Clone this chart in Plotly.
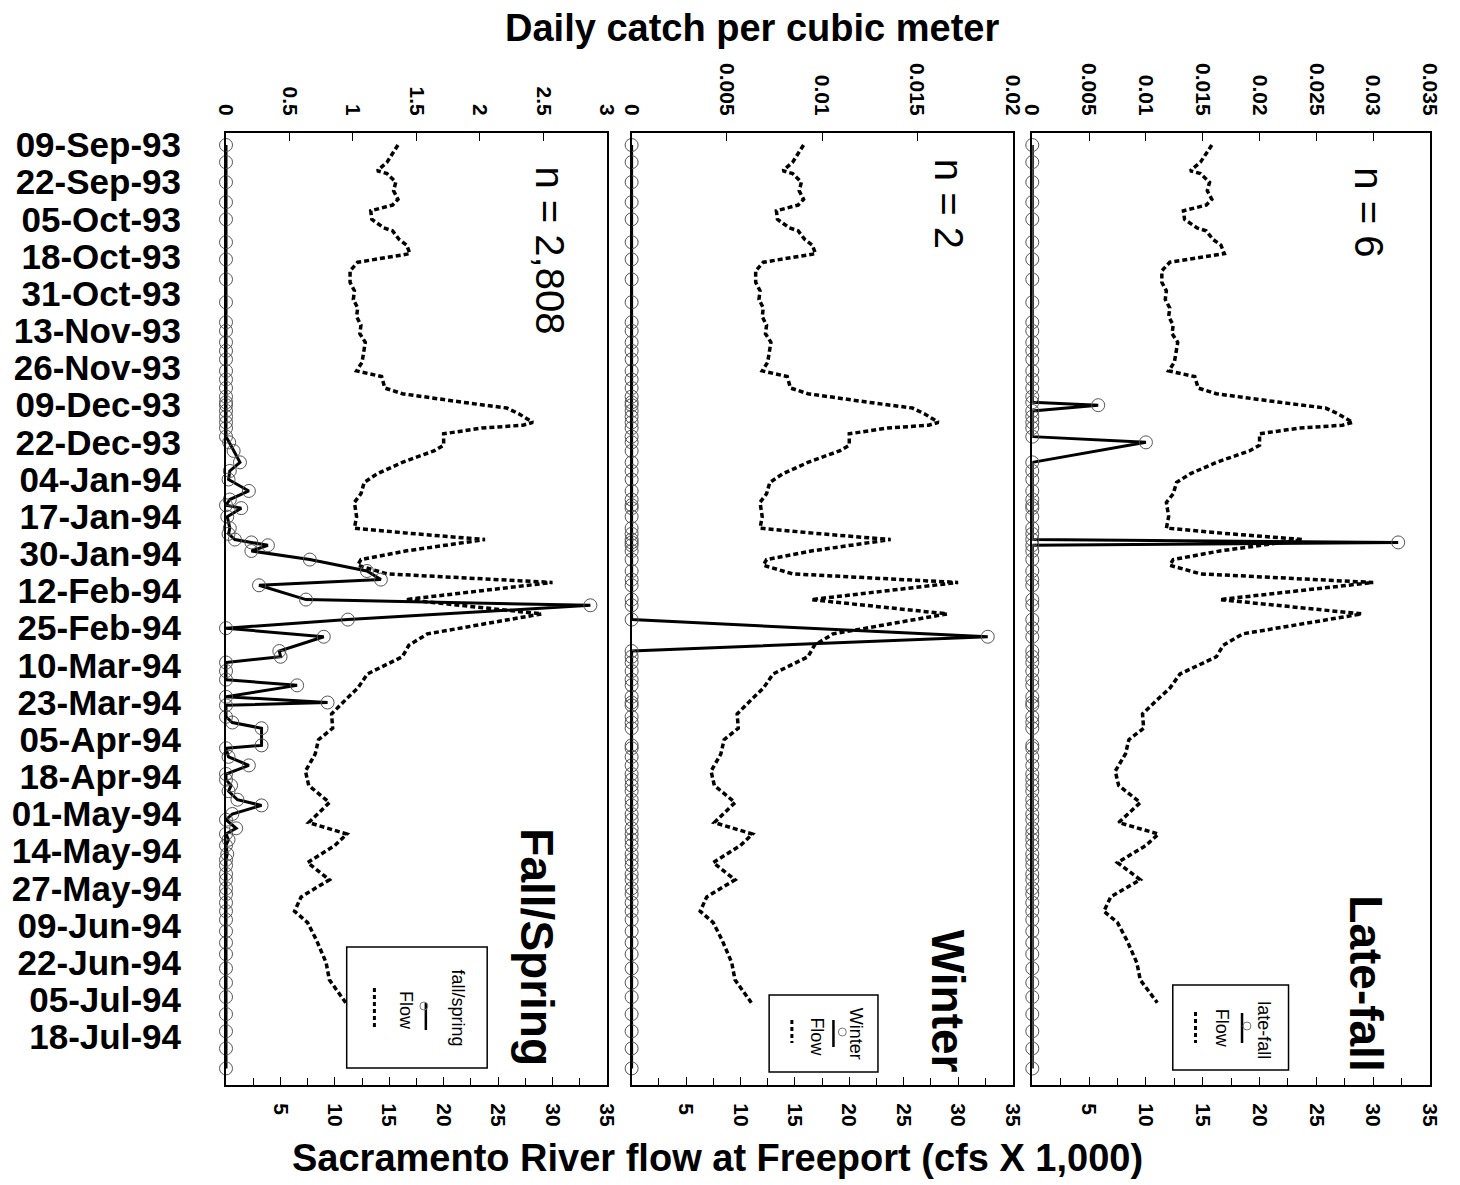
import plotly.graph_objects as go

FONT = "Liberation Sans"

# ---------------- data ----------------
date_tick_values = [
    "1993-09-09", "1993-09-22", "1993-10-05", "1993-10-18", "1993-10-31",
    "1993-11-13", "1993-11-26", "1993-12-09", "1993-12-22", "1994-01-04",
    "1994-01-17", "1994-01-30", "1994-02-12", "1994-02-25", "1994-03-10",
    "1994-03-23", "1994-04-05", "1994-04-18", "1994-05-01", "1994-05-14",
    "1994-05-27", "1994-06-09", "1994-06-22", "1994-07-05", "1994-07-18"]
date_tick_labels = [
    "09-Sep-93", "22-Sep-93", "05-Oct-93", "18-Oct-93", "31-Oct-93",
    "13-Nov-93", "26-Nov-93", "09-Dec-93", "22-Dec-93", "04-Jan-94",
    "17-Jan-94", "30-Jan-94", "12-Feb-94", "25-Feb-94", "10-Mar-94",
    "23-Mar-94", "05-Apr-94", "18-Apr-94", "01-May-94", "14-May-94",
    "27-May-94", "09-Jun-94", "22-Jun-94", "05-Jul-94", "18-Jul-94"]

# Sacramento River flow at Freeport (cfs x 1,000)
flow_dates = [
    "1993-09-09", "1993-09-15", "1993-09-18", "1993-09-19", "1993-09-22", "1993-09-25",
    "1993-09-28", "1993-09-30", "1993-10-02", "1993-10-05", "1993-10-08", "1993-10-09",
    "1993-10-12", "1993-10-14", "1993-10-17", "1993-10-19", "1993-10-20", "1993-10-23",
    "1993-10-27", "1993-10-30", "1993-11-02", "1993-11-05", "1993-11-08", "1993-11-11",
    "1993-11-14", "1993-11-17", "1993-11-20", "1993-11-24", "1993-11-27", "1993-11-29",
    "1993-12-03", "1993-12-05", "1993-12-08", "1993-12-10", "1993-12-12", "1993-12-15",
    "1993-12-16", "1993-12-17", "1993-12-19", "1993-12-23", "1993-12-25", "1993-12-29",
    "1994-01-02", "1994-01-05", "1994-01-09", "1994-01-12", "1994-01-17", "1994-01-21",
    "1994-01-23", "1994-01-25", "1994-01-29", "1994-02-01", "1994-02-03", "1994-02-06",
    "1994-02-09", "1994-02-15", "1994-02-20", "1994-02-27", "1994-03-03", "1994-03-07",
    "1994-03-13", "1994-03-18", "1994-03-22", "1994-03-27", "1994-04-01", "1994-04-05",
    "1994-04-10", "1994-04-16", "1994-04-21", "1994-04-27", "1994-05-04", "1994-05-08",
    "1994-05-12", "1994-05-18", "1994-05-24", "1994-05-30", "1994-06-04", "1994-06-08",
    "1994-06-14", "1994-06-22", "1994-06-28", "1994-07-06"]
flow_cfs_thousands = [
    15.8, 14.8, 13.9, 14.8, 15.6, 15.4,
    15.8, 15.3, 13.3, 13.4, 14.5, 15.3,
    15.9, 16.6, 16.9, 13.6, 12.1, 11.4,
    11.4, 11.8, 11.7, 12.1, 12.0, 12.4,
    12.3, 12.8, 12.7, 12.5, 12.0, 14.3,
    14.6, 16.2, 21.8, 25.8, 26.9, 28.2,
    27.3, 23.5, 20.0, 20.0, 19.1, 16.2,
    13.9, 12.7, 12.4, 11.8, 12.0, 11.8,
    17.4, 23.8, 16.5, 12.4, 12.1, 14.8,
    30.0, 16.5, 29.0, 18.5, 16.8, 16.2,
    13.0, 12.1, 11.0, 9.7, 9.8, 8.5,
    8.2, 7.3, 7.6, 9.5, 7.6, 11.1,
    10.0, 7.5, 9.5, 6.9, 6.3, 7.5,
    8.3, 9.2, 9.5, 11.0]

# trawl sample dates and daily catch per cubic meter
sample_dates = [
    "1993-09-09", "1993-09-15", "1993-09-22", "1993-09-29", "1993-10-05", "1993-10-13", "1993-10-19", "1993-10-26", "1993-11-03", "1993-11-10",
    "1993-11-13", "1993-11-17", "1993-11-20", "1993-11-23", "1993-11-27", "1993-11-30", "1993-12-03", "1993-12-06", "1993-12-08", "1993-12-09",
    "1993-12-11", "1993-12-13", "1993-12-15", "1993-12-17", "1993-12-20", "1993-12-22", "1993-12-25", "1993-12-29", "1994-01-01", "1994-01-04",
    "1994-01-08", "1994-01-11", "1994-01-13", "1994-01-14", "1994-01-17", "1994-01-21", "1994-01-23", "1994-01-25", "1994-01-26", "1994-01-27",
    "1994-01-29", "1994-02-01", "1994-02-05", "1994-02-08", "1994-02-10", "1994-02-15", "1994-02-17", "1994-02-22", "1994-02-25", "1994-02-28",
    "1994-03-05", "1994-03-07", "1994-03-09", "1994-03-12", "1994-03-15", "1994-03-17", "1994-03-21", "1994-03-23", "1994-03-24", "1994-03-28",
    "1994-03-30", "1994-04-01", "1994-04-07", "1994-04-08", "1994-04-11", "1994-04-14", "1994-04-17", "1994-04-19", "1994-04-21", "1994-04-23",
    "1994-04-26", "1994-04-28", "1994-05-01", "1994-05-03", "1994-05-06", "1994-05-08", "1994-05-10", "1994-05-12", "1994-05-15", "1994-05-17",
    "1994-05-19", "1994-05-22", "1994-05-24", "1994-05-27", "1994-05-29", "1994-06-01", "1994-06-04", "1994-06-07", "1994-06-11", "1994-06-15",
    "1994-06-19", "1994-06-24", "1994-06-29", "1994-07-04", "1994-07-10", "1994-07-16", "1994-07-22", "1994-07-29"]
catch_fall_spring = [
    0, 0, 0, 0, 0, 0, 0, 0, 0, 0,
    0, 0, 0, 0, 0, 0, 0, 0, 0, 0,
    0, 0, 0, 0, 0, 0.025, 0.06, 0.11, 0.03, 0.02,
    0.18, 0.03, 0, 0.12, 0.01, 0.03, 0.02, 0.07, 0.2, 0.33,
    0.20, 0.66, 1.11, 1.22, 0.26, 0.63, 2.87, 0.96, 0, 0.77,
    0.42, 0.43, 0, 0, 0, 0.56, 0, 0.80, 0, 0,
    0.05, 0.28, 0.28, 0, 0.02, 0.18, 0, 0, 0.04, 0.02,
    0.09, 0.28, 0.05, 0, 0.08, 0, 0.02, 0, 0.01, 0,
    0, 0, 0, 0, 0, 0, 0, 0, 0, 0,
    0, 0, 0, 0, 0, 0, 0, 0]
catch_winter = [
    0, 0, 0, 0, 0, 0, 0, 0, 0, 0,
    0, 0, 0, 0, 0, 0, 0, 0, 0, 0,
    0, 0, 0, 0, 0, 0, 0, 0, 0, 0,
    0, 0, 0, 0, 0, 0, 0, 0, 0, 0,
    0, 0, 0, 0, 0, 0, 0, 0, None, 0.0187,
    0, 0, 0, 0, 0, 0, 0, 0, 0, 0,
    0, 0, 0, 0, 0, 0, 0, 0, 0, 0,
    0, 0, 0, 0, 0, 0, 0, 0, 0, 0,
    0, 0, 0, 0, 0, 0, 0, 0, 0, 0,
    0, 0, 0, 0, 0, 0, 0, 0]
catch_late_fall = [
    0, 0, 0, 0, 0, 0, 0, 0, 0, 0,
    0, 0, 0, 0, 0, 0, 0, 0, 0, 0.0058,
    0, 0, 0, 0, 0, 0.0100, None, 0, 0, 0,
    0, 0, 0, 0, 0, 0, 0, 0, 0.0322, 0,
    0, 0, 0, 0, 0, 0, 0, 0, 0, 0,
    0, 0, 0, 0, 0, 0, 0, 0, 0, 0,
    0, 0, 0, 0, 0, 0, 0, 0, 0, 0,
    0, 0, 0, 0, 0, 0, 0, 0, 0, 0,
    0, 0, 0, 0, 0, 0, 0, 0, 0, 0,
    0, 0, 0, 0, 0, 0, 0, 0]

fs_tick_values = [0, 0.5, 1, 1.5, 2, 2.5, 3]
fs_tick_labels = ["0", "0.5", "1", "1.5", "2", "2.5", "3"]
winter_tick_values = [0, 0.005, 0.01, 0.015, 0.02]
winter_tick_labels = ["0", "0.005", "0.01", "0.015", "0.02"]
late_tick_values = [0, 0.005, 0.01, 0.015, 0.02, 0.025, 0.03, 0.035]
late_tick_labels = ["0", "0.005", "0.01", "0.015", "0.02", "0.025", "0.03", "0.035"]
flow_tick_values = [5, 10, 15, 20, 25, 30, 35]
flow_tick_labels = ["5", "10", "15", "20", "25", "30", "35"]

panel_titles = ["Fall/Spring", "Winter", "Late-fall"]
sample_sizes = ["n = 2,808", "n = 2", "n = 6"]
series_names = ["fall/spring", "Winter", "late-fall"]

# ---------------- geometry (pixels) ----------------
W, H = 1460, 1185
ML, MR, MT, MB = 213, 30, 133, 100
PW, PH = W - ML - MR, H - MT - MB


def fx(px):
    return (px - ML) / PW


def fy(py):
    return (H - MB - py) / PH


panel_px = [(213, 598), (623, 1008), (1028, 1430)]
y_range = ["1994-08-03 19:00", "1993-09-04 19:00"]  # reversed: time runs downward

panels = [
    dict(catch=catch_fall_spring, cmax=3, tv=fs_tick_values, tl=fs_tick_labels),
    dict(catch=catch_winter, cmax=0.02, tv=winter_tick_values, tl=winter_tick_labels),
    dict(catch=catch_late_fall, cmax=0.035, tv=late_tick_values, tl=late_tick_labels),
]

tick_font = dict(family=FONT, size=21, color="black", weight="bold")

fig = go.Figure()
layout = {}
for i, p in enumerate(panels):
    fa, ca = 2 * i + 1, 2 * i + 2
    fxn = "x" if fa == 1 else f"x{fa}"
    cxn = f"x{ca}"
    yn = "y" if i == 0 else f"y{i + 1}"
    dom = [fx(panel_px[i][0]), fx(panel_px[i][1])]

    fig.add_trace(go.Scatter(
        x=flow_cfs_thousands, y=flow_dates, xaxis=fxn, yaxis=yn,
        mode="lines", line=dict(color="black", width=3.5, dash="5px,3px"),
        showlegend=False, hoverinfo="skip"))
    fig.add_trace(go.Scatter(
        x=p["catch"], y=sample_dates, xaxis=cxn, yaxis=yn,
        mode="lines+markers", connectgaps=True, cliponaxis=False,
        line=dict(color="black", width=3),
        marker=dict(symbol="circle-open", size=13, color="#555555",
                    line=dict(width=1)),
        showlegend=False))

    layout["xaxis" if fa == 1 else f"xaxis{fa}"] = dict(
        domain=dom, anchor=yn, side="bottom", range=[0, 35],
        tickmode="array", tickvals=flow_tick_values, ticktext=flow_tick_labels,
        tickangle=90, ticks="inside", ticklen=8, tickwidth=1, tickcolor="black",
        minor=dict(ticks="inside", ticklen=7, dtick=2.5, tick0=0,
                   tickcolor="black", showgrid=False),
        ticklabelstandoff=12, tickfont=tick_font,
        showline=True, linewidth=2, linecolor="black",
        showgrid=False, zeroline=False, fixedrange=True)
    layout[f"xaxis{ca}"] = dict(
        domain=dom, anchor=yn, overlaying=fxn, side="top",
        range=[0, p["cmax"]], tickmode="array", tickvals=p["tv"], ticktext=p["tl"],
        tickangle=90, ticks="inside", ticklen=8, tickwidth=1, tickcolor="black",
        ticklabelstandoff=8, tickfont=tick_font,
        showline=True, linewidth=2, linecolor="black",
        showgrid=False, zeroline=False, fixedrange=True)
    yax = dict(
        domain=[0, 1], anchor=fxn, type="date", range=y_range,
        tickmode="array", tickvals=date_tick_values, ticktext=date_tick_labels,
        ticks="", showticklabels=(i == 0), ticklabelstandoff=36,
        tickfont=dict(family=FONT, size=35, color="black", weight="bold"),
        showline=True, mirror=True, linewidth=2, linecolor="black",
        showgrid=False, zeroline=False, fixedrange=True)
    if i > 0:
        yax["matches"] = "y"
    layout["yaxis" if i == 0 else f"yaxis{i + 1}"] = yax

# ---------------- text and legends ----------------
annotations = [
    dict(text="Daily catch per cubic meter", x=fx(745), y=fy(28),
         font=dict(family=FONT, size=38, color="black", weight="bold")),
    dict(text="Sacramento River flow at Freeport (cfs X 1,000)", x=fx(710), y=fy(1158),
         font=dict(family=FONT, size=38, color="black", weight="bold")),
]
title_pos = [(527, 947), (943, 1001), (1365, 983)]
n_pos = [(540, 250), (944, 204), (1368, 212)]
for i in range(3):
    annotations.append(dict(text=panel_titles[i], x=fx(title_pos[i][0]), y=fy(title_pos[i][1]),
                            textangle=90, font=dict(family=FONT, size=46, color="black", weight="bold")))
    annotations.append(dict(text=sample_sizes[i], x=fx(n_pos[i][0]), y=fy(n_pos[i][1]),
                            textangle=90, font=dict(family=FONT, size=40, color="black")))

legend_box = [(335, 947, 477, 1068), (762, 995, 872, 1072), (1170, 985, 1287, 1070)]
legend_label = [(447, 1008), (850, 1034), (1262, 1030)]
legend_line = [(415, 1003, 1030), (827, 1020, 1047), (1240, 1013, 1043)]
legend_circle = [(413, 1006), (836, 1032), (1245, 1026)]
legend_flow = [(395, 1010), (810, 1037), (1220, 1028)]
legend_dots = [(363, 988, 1030), (785, 1020, 1043), (1193, 1012, 1043)]

shapes = []
for i in range(3):
    x0, y0, x1, y1 = legend_box[i]
    shapes.append(dict(type="rect", xref="paper", yref="paper", x0=fx(x0), x1=fx(x1),
                       y0=fy(y1), y1=fy(y0), line=dict(color="black", width=1.5),
                       fillcolor="white", layer="above"))
    lx, la, lb = legend_line[i]
    shapes.append(dict(type="line", xref="paper", yref="paper", x0=fx(lx), x1=fx(lx),
                       y0=fy(la), y1=fy(lb), line=dict(color="black", width=2.5), layer="above"))
    cx, cy = legend_circle[i]
    shapes.append(dict(type="circle", xref="paper", yref="paper", x0=fx(cx - 4), x1=fx(cx + 4),
                       y0=fy(cy + 4), y1=fy(cy - 4), line=dict(color="#777777", width=1), layer="above"))
    dx, da, db = legend_dots[i]
    shapes.append(dict(type="line", xref="paper", yref="paper", x0=fx(dx), x1=fx(dx),
                       y0=fy(da), y1=fy(db), line=dict(color="black", width=3, dash="4px,3px"),
                       layer="above"))
    annotations.append(dict(text=series_names[i], x=fx(legend_label[i][0]), y=fy(legend_label[i][1]),
                            textangle=90, font=dict(family=FONT, size=18, color="black")))
    annotations.append(dict(text="Flow", x=fx(legend_flow[i][0]), y=fy(legend_flow[i][1]),
                            textangle=90, font=dict(family=FONT, size=18, color="black")))

for a in annotations:
    a.update(xref="paper", yref="paper", showarrow=False, xanchor="center", yanchor="middle")

fig.update_layout(
    width=W, height=H, autosize=False,
    margin=dict(l=ML, r=MR, t=MT, b=MB, pad=0),
    paper_bgcolor="white", plot_bgcolor="white",
    showlegend=False, annotations=annotations, shapes=shapes,
    font=dict(family=FONT, color="black"),
    **layout)

fig.write_html(
    "out.html",
    config={"displayModeBar": False},
    post_script="document.body.style.margin='0px';document.body.style.overflow='hidden';")
